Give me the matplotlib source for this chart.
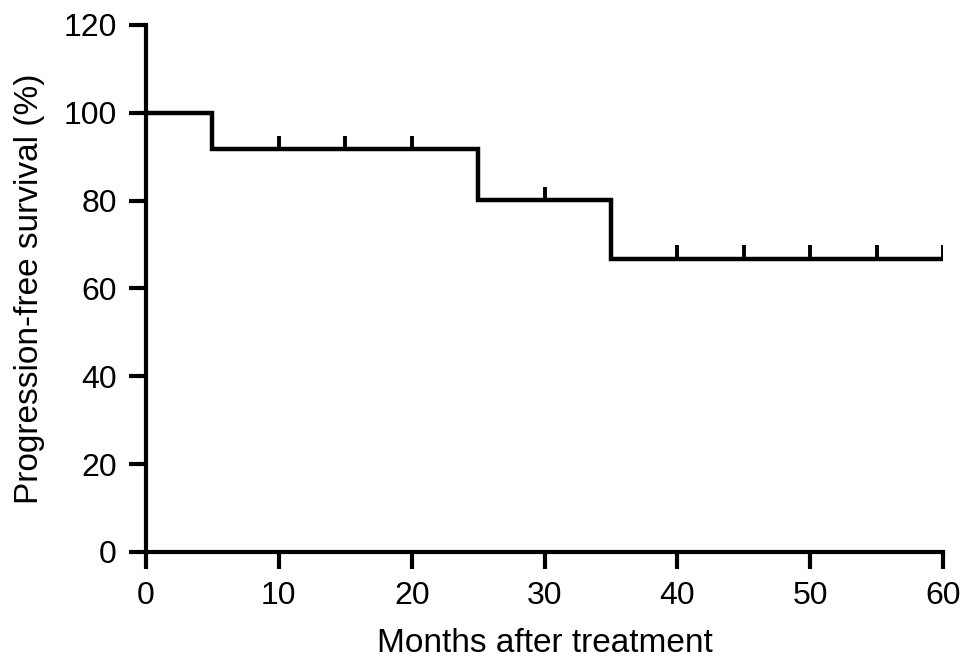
import matplotlib
matplotlib.use("Agg")
import matplotlib.pyplot as plt

# Kaplan-Meier step data
event_times = [0, 5, 25, 35, 60]
survival = [100, 91.7, 80.2, 66.8, 66.8]
censor_times = [10, 15, 20, 30, 40, 45, 50, 55, 60]
censor_surv = [91.7, 91.7, 91.7, 80.2, 66.8, 66.8, 66.8, 66.8, 66.8]

x_ticks = [0, 10, 20, 30, 40, 50, 60]
y_ticks = [0, 20, 40, 60, 80, 100, 120]

plt.rcParams['font.family'] = ['Liberation Sans', 'DejaVu Sans']

fig = plt.figure(figsize=(9.69, 6.66), dpi=100)
ax = fig.add_axes([0.1507, 0.1712, 0.8225, 0.7913])

ax.step(event_times, survival, where='post', color='black', lw=3.2,
        solid_joinstyle='miter', solid_capstyle='butt')
# censor marks as small upward ticks
for t, s in zip(censor_times, censor_surv):
    ax.plot([t, t], [s, s + 3.0], color='black', lw=2.8, solid_capstyle='butt')

ax.set_xlim(0, 60)
ax.set_ylim(0, 120)
ax.set_xticks(x_ticks)
ax.set_yticks(y_ticks)
ax.spines['top'].set_visible(False)
ax.spines['right'].set_visible(False)
for sp in ['left', 'bottom']:
    ax.spines[sp].set_linewidth(3.0)
ax.tick_params(direction='out', length=12, width=3.0, labelsize=23)
ax.tick_params(axis='x', pad=9)
ax.tick_params(axis='y', pad=9)
ax.set_xlabel('Months after treatment', fontsize=24, labelpad=12)
ax.set_ylabel('Progression-free survival (%)', fontsize=24, labelpad=13)

fig.savefig('out.png', dpi=100)
